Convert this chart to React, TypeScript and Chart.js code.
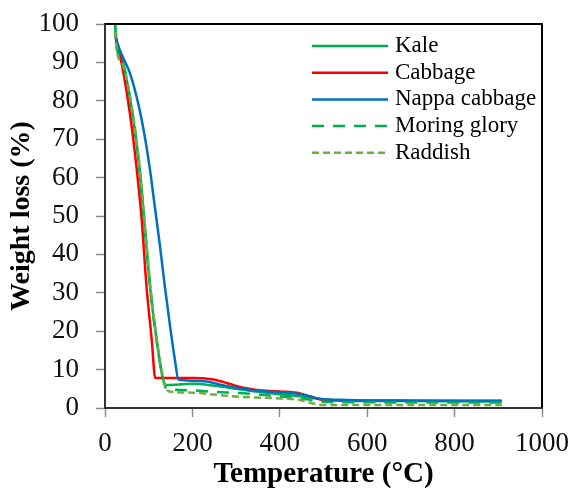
import React, { useEffect, useRef } from 'react';
import { Chart, registerables } from 'chart.js';

Chart.register(...registerables);

const seriesNames = ['Kale', 'Cabbage', 'Nappa cabbage', 'Moring glory', 'Raddish'];
const seriesColors = ['#00b050', '#ff0000', '#0070c0', '#00b050', '#70ad47'];
const seriesDashes: number[][] = [[], [], [], [12, 9], [7, 4]];

const kaleTemp = [23, 27, 42, 65, 80, 91, 103, 118, 133, 139, 200, 250, 300, 350, 400, 450, 500, 550, 700, 908];
const kaleWeight = [100, 95, 89.8, 75, 61, 47, 31.6, 17.7, 7.3, 6, 6.3, 5.8, 5, 4.2, 3.6, 3, 2.2, 1.9, 1.8, 1.7];

const cabbageTemp = [23, 27, 38, 57, 72, 84, 95, 107, 115, 150, 200, 244, 270, 293, 320, 347, 400, 446, 470, 491, 520, 600, 908];
const cabbageWeight = [97, 95, 89.8, 76.7, 62.8, 49, 31.6, 17.7, 7.8, 7.8, 7.8, 7.5, 6.8, 6, 5.2, 4.7, 4.3, 3.8, 3, 2.3, 2, 1.9, 1.9];

const nappaTemp = [23, 34, 57, 76, 91, 103, 114, 126, 137, 149, 160, 168, 200, 232, 260, 293, 347, 400, 446, 470, 491, 552, 700, 908];
const nappaWeight = [97.1, 93.2, 87.2, 79.3, 70.7, 62, 52.4, 42, 31.6, 21.2, 12.5, 7.4, 7.1, 6.9, 6.2, 5.4, 4.5, 4.1, 3.6, 3, 2.4, 2.1, 1.9, 1.8];

const moringTemp = [23, 27, 42, 65, 80, 91, 103, 118, 134, 141, 200, 250, 309, 400, 446, 480, 500, 552, 908];
const moringWeight = [100, 94, 89.5, 75, 61, 47, 31.6, 17.7, 7, 5.1, 4.6, 4.2, 3.9, 3, 2.5, 2, 1.6, 1.5, 1.4];

const raddishTemp = [23, 27, 42, 66, 81, 92, 104, 119, 135, 147, 200, 250, 309, 400, 446, 475, 497, 600, 908];
const raddishWeight = [98, 93, 89, 75, 61, 47, 31.6, 17.7, 7, 4.3, 4, 3.5, 2.9, 2.5, 2.1, 1.2, 0.8, 0.8, 0.8];

const seriesTemps = [kaleTemp, cabbageTemp, nappaTemp, moringTemp, raddishTemp];
const seriesWeights = [kaleWeight, cabbageWeight, nappaWeight, moringWeight, raddishWeight];

const xMin = 0, xMax = 1000, xStep = 200;
const yMin = 0, yMax = 100, yStep = 10;
const xTitle = 'Temperature (°C)';
const yTitle = 'Weight loss (%)';

const serif = '"Liberation Serif", "Times New Roman", serif';

const legendPlugin = {
  id: 'lineLegend',
  afterDatasetsDraw(chart: any, _args: any, opts: any) {
    const ctx = chart.ctx;
    ctx.save();
    chart.data.datasets.forEach((ds: any, i: number) => {
      const y = opts.y0 + i * opts.gap;
      ctx.beginPath();
      ctx.setLineDash(ds.borderDash || []);
      ctx.strokeStyle = ds.borderColor;
      ctx.lineWidth = ds.borderWidth;
      ctx.moveTo(opts.x0, y);
      ctx.lineTo(opts.x1, y);
      ctx.stroke();
      ctx.setLineDash([]);
      ctx.fillStyle = '#000';
      ctx.font = `${opts.fontSize}px ${serif}`;
      ctx.textBaseline = 'middle';
      ctx.textAlign = 'left';
      ctx.fillText(ds.label, opts.textX, y);
    });
    ctx.restore();
  },
};

const framePlugin = {
  id: 'frame',
  afterDraw(chart: any) {
    const { ctx, chartArea } = chart;
    ctx.save();
    ctx.strokeStyle = '#000';
    ctx.lineWidth = 2;
    ctx.beginPath();
    ctx.moveTo(chartArea.left, chartArea.top);
    ctx.lineTo(chartArea.right, chartArea.top);
    ctx.lineTo(chartArea.right, chartArea.bottom);
    ctx.stroke();
    ctx.restore();
  },
};

export default function App() {
  const ref = useRef<HTMLCanvasElement>(null);
  useEffect(() => {
    const datasets = seriesNames.map((name, i) => ({
      label: name,
      data: seriesTemps[i].map((t, j) => ({ x: t, y: seriesWeights[i][j] })),
      borderColor: seriesColors[i],
      backgroundColor: seriesColors[i],
      borderDash: seriesDashes[i],
      borderWidth: 2.5,
      pointRadius: 0,
      fill: false,
      cubicInterpolationMode: 'monotone' as const,
      order: seriesNames.length - i,
    }));
    const chart = new Chart(ref.current!, {
      type: 'line',
      data: { datasets },
      plugins: [legendPlugin, framePlugin],
      options: {
        animation: false,
        responsive: false,
        layout: { padding: { top: 24, right: 30, left: 0, bottom: 0 } },
        plugins: {
          legend: { display: false },
          tooltip: { enabled: false },
          lineLegend: { x0: 312, x1: 388, textX: 395, y0: 46, gap: 26.7, fontSize: 23 },
        } as any,
        scales: {
          x: {
            type: 'linear',
            min: xMin,
            max: xMax,
            afterFit: (s: any) => {
              s.height = 82;
              s.paddingLeft = 0; s.paddingRight = 0; s.paddingTop = 0; s.paddingBottom = 0;
            },
            ticks: {
              stepSize: xStep,
              color: '#111',
              padding: 11,
              font: { family: serif, size: 27 },
              callback: (v: any) => String(v),
            },
            grid: { drawOnChartArea: false, color: '#8c8c8c', tickLength: 9, tickWidth: 1.5 },
            border: { color: '#333', width: 2 },
            title: {
              display: true,
              text: xTitle,
              color: '#000',
              font: { family: serif, size: 29, weight: 'bold' },
              padding: { top: 0, bottom: -2 },
            },
          },
          y: {
            type: 'linear',
            min: yMin,
            max: yMax,
            afterFit: (s: any) => {
              s.width = 105;
              s.paddingLeft = 0; s.paddingRight = 0; s.paddingTop = 0; s.paddingBottom = 0;
            },
            ticks: {
              stepSize: yStep,
              color: '#111',
              padding: 17,
              font: { family: serif, size: 27 },
              callback: (v: any) => String(v),
            },
            grid: { drawOnChartArea: false, color: '#8c8c8c', tickLength: 9, tickWidth: 1.5 },
            border: { color: '#333', width: 2 },
            title: {
              display: true,
              text: yTitle,
              color: '#000',
              font: { family: serif, size: 28, weight: 'bold' },
              padding: { top: 5, bottom: 0 },
            },
          },
        },
      },
    });
    return () => chart.destroy();
  }, []);
  return (
    <div style={{ position: 'absolute', left: 0, top: 0, width: 572, height: 490, background: '#fff' }}>
      <canvas ref={ref} width={572} height={490} />
    </div>
  );
}
